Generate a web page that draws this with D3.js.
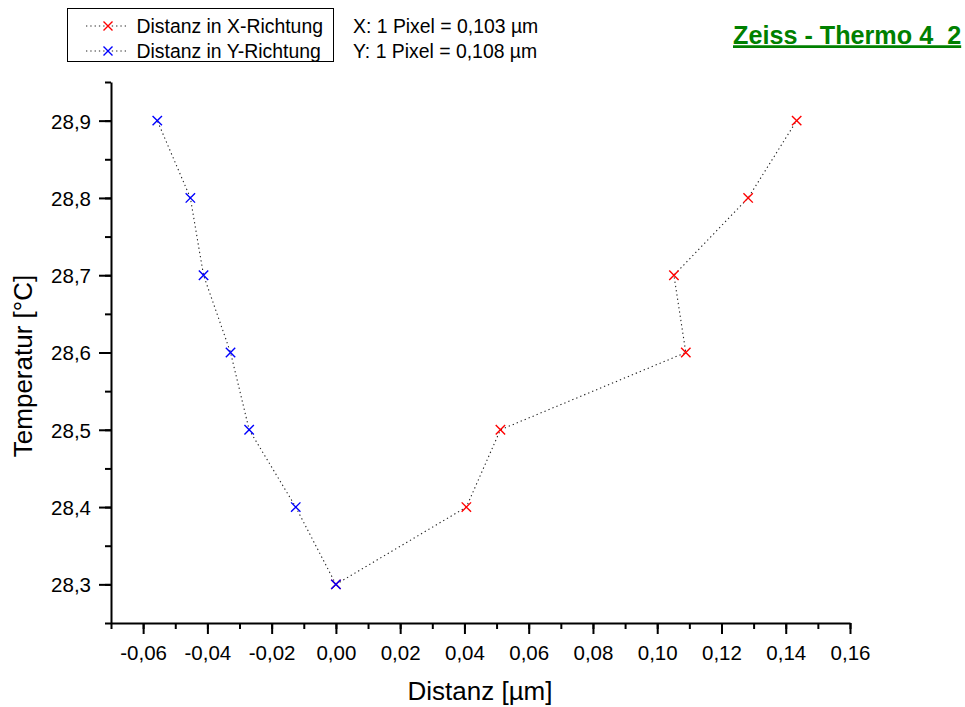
<!DOCTYPE html>
<html><head><meta charset="utf-8">
<script src="https://cdn.jsdelivr.net/npm/d3@7"></script>
<style>
html,body{margin:0;padding:0;background:#fff;}
svg{display:block;font-family:"Liberation Sans",Arial,sans-serif;}
</style></head>
<body>
<svg id="chart" width="965" height="707"></svg>
<script>
const temperatures = [28.3, 28.4, 28.5, 28.6, 28.7, 28.8, 28.9];
const distX = [0.000, 0.0406, 0.0512, 0.1089, 0.1052, 0.1283, 0.1434];
const distY = [0.000, -0.0125, -0.0270, -0.0328, -0.0412, -0.0453, -0.0556];
const seriesNames = ["Distanz in X-Richtung", "Distanz in Y-Richtung"];
const seriesColors = ["#ff0000", "#0000ff"];
const xTickValues = [-0.06, -0.04, -0.02, 0.00, 0.02, 0.04, 0.06, 0.08, 0.10, 0.12, 0.14, 0.16];
const yTickValues = [28.3, 28.4, 28.5, 28.6, 28.7, 28.8, 28.9];
const infoLines = ["X: 1 Pixel = 0,103 µm", "Y: 1 Pixel = 0,108 µm"];
const title = "Zeiss - Thermo 4_2";
const xLabel = "Distanz [µm]";
const yLabel = "Temperatur [°C]";

const svg = d3.select("#chart");
const x = d3.scaleLinear().domain([-0.07, 0.16]).range([111, 850]);
const y = d3.scaleLinear().domain([28.25, 28.95]).range([623, 82]);

const loc = d3.formatLocale({decimal: ",", thousands: ".", grouping: [3], currency: ["", " €"], minus: "-"});
const fx = loc.format(".2f"), fy = loc.format(".1f");

const xMinor = d3.range(-0.07, 0.1601, 0.01).map(v => Math.round(v*100)/100);
const yMinor = d3.range(28.25, 28.951, 0.05).map(v => Math.round(v*100)/100);

const gx = svg.append("g").attr("transform", `translate(0,${y(28.25)})`);
gx.call(d3.axisBottom(x).tickValues(xMinor).tickSize(6).tickFormat(""));
gx.call(g => g.select(".domain").remove());
const gx2 = svg.append("g").attr("transform", `translate(0,${y(28.25)})`);
gx2.call(d3.axisBottom(x).tickValues(xTickValues).tickSize(11).tickSizeOuter(0).tickFormat(fx));

const gy = svg.append("g").attr("transform", `translate(${x(-0.07)},0)`);
gy.call(d3.axisLeft(y).tickValues(yMinor).tickSize(6).tickFormat(""));
gy.call(g => g.select(".domain").remove());
const gy2 = svg.append("g").attr("transform", `translate(${x(-0.07)},0)`);
gy2.call(d3.axisLeft(y).tickValues(yTickValues).tickSize(12).tickSizeOuter(0).tickFormat(fy));

svg.selectAll(".tick line").attr("stroke", "#000").attr("stroke-width", 2);
svg.selectAll(".domain").attr("stroke", "#000").attr("stroke-width", 2);
svg.selectAll(".tick text").attr("font-family", "Liberation Sans, Arial, sans-serif").attr("font-size", 20.5).attr("fill", "#000");
gx2.selectAll(".tick text").attr("y", 37).attr("dy", 0);
gy2.selectAll(".tick text").attr("x", -20).attr("dy", "0.36em");

// axis titles
svg.append("text").attr("x", 480).attr("y", 700).attr("text-anchor", "middle")
  .attr("font-size", 26).text(xLabel);
svg.append("text").attr("transform", "translate(32,366) rotate(-90)").attr("text-anchor", "middle")
  .attr("font-size", 26).text(yLabel);

// series
const line = d3.line();
const series = [distX, distY];
function cross(g, cx, cy, color, s) {
  g.append("path").attr("d", `M${cx-s},${cy-s}L${cx+s},${cy+s}M${cx-s},${cy+s}L${cx+s},${cy-s}`)
   .attr("stroke", color).attr("stroke-width", 1.4).attr("fill", "none");
}
series.forEach((vals, i) => {
  const pts = vals.map((v, j) => [x(v), y(temperatures[j])]);
  svg.append("path").attr("d", line(pts)).attr("fill", "none").attr("stroke", "#222")
    .attr("stroke-width", 1.1).attr("stroke-dasharray", "1.3,3");
});
series.forEach((vals, i) => {
  const g = svg.append("g");
  vals.forEach((v, j) => cross(g, x(v), y(temperatures[j]), seriesColors[i], 4.7));
});

// legend
const lg = svg.append("g");
lg.append("rect").attr("x", 67.5).attr("y", 8.5).attr("width", 266).attr("height", 53)
  .attr("fill", "#fff").attr("stroke", "#000").attr("stroke-width", 1);
seriesNames.forEach((name, i) => {
  const cy = 26 + i*25;
  lg.append("line").attr("x1", 86).attr("x2", 128).attr("y1", cy).attr("y2", cy)
    .attr("stroke", "#222").attr("stroke-width", 1.1).attr("stroke-dasharray", "1.3,3");
  cross(lg, 108, cy, seriesColors[i], 4.5);
  lg.append("text").attr("x", 136.5).attr("y", cy).attr("dy", "0.36em").attr("font-size", 19.4).text(name);
});
infoLines.forEach((t, i) => {
  svg.append("text").attr("x", 353).attr("y", 26 + i*25).attr("dy", "0.36em").attr("font-size", 19.4).text(t);
});

// title
const tt = svg.append("text").attr("x", 733).attr("y", 43.5).attr("font-size", 25.2).attr("font-weight", "bold")
  .attr("fill", "#008000").text(title);
const bb = tt.node().getBBox();
svg.append("line").attr("x1", bb.x).attr("x2", bb.x + bb.width).attr("y1", 46.6).attr("y2", 46.6)
  .attr("stroke", "#008000").attr("stroke-width", 2.6);
</script>
</body></html>
